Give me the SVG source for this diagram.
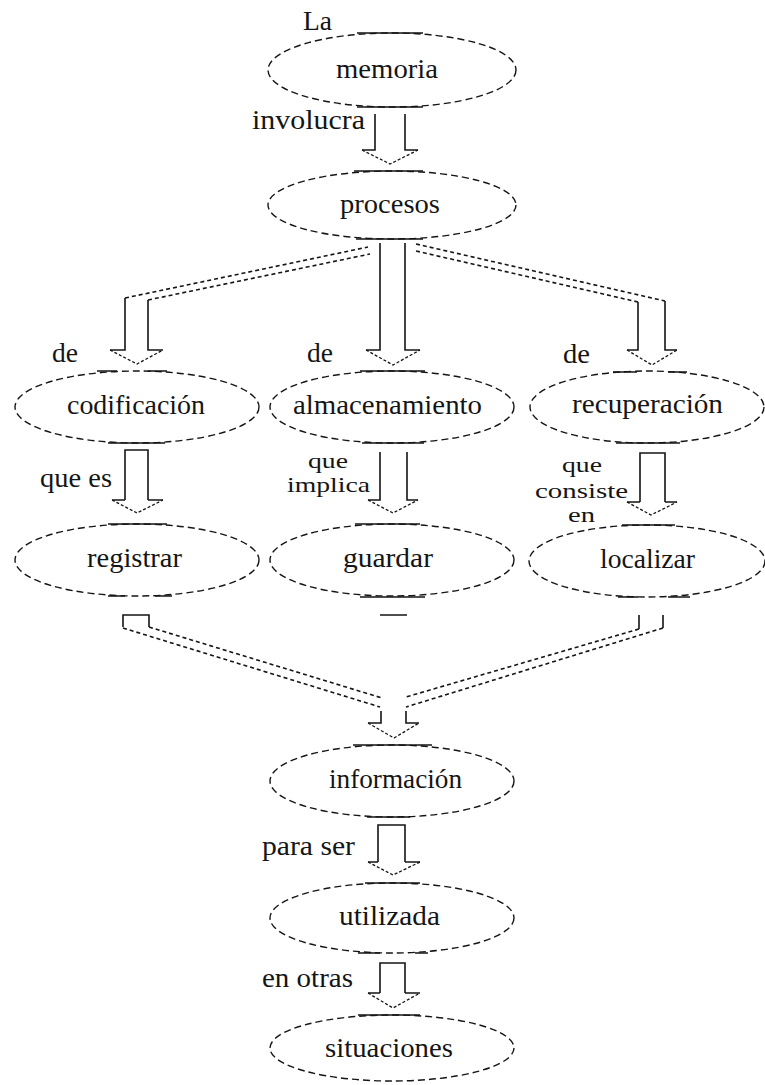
<svg xmlns="http://www.w3.org/2000/svg" width="765" height="1085" viewBox="0 0 765 1085">
<style>
.nd ellipse{fill:none;stroke:#151515;stroke-width:1.4;stroke-dasharray:7 4}
.seg{stroke:#151515;stroke-width:1.6;fill:none}
.shaft{fill:none;stroke:#151515;stroke-width:1.6}
.head{fill:none;stroke:#151515;stroke-width:1.3;stroke-dasharray:3 2}
.dl{fill:none;stroke:#151515;stroke-width:1.6;stroke-dasharray:4 3}
text{font-family:"Liberation Serif",serif;font-size:27px;fill:#151515}
.sm{font-size:22px}
</style>
<rect width="765" height="1085" fill="#ffffff"/>
<g id="n-memoria" class="nd"><ellipse cx="392" cy="70" rx="124" ry="37"/><path class="seg" d="M357 33H423M357 107H423"/><text x="336" y="78" textLength="102" lengthAdjust="spacingAndGlyphs">memoria</text></g>
<g id="n-procesos" class="nd"><ellipse cx="392" cy="205" rx="124" ry="34"/><path class="seg" d="M354 171H423M356 239H423"/><text x="340" y="213" textLength="100" lengthAdjust="spacingAndGlyphs">procesos</text></g>
<g id="n-codificacion" class="nd"><ellipse cx="137" cy="407" rx="122" ry="36"/><path class="seg" d="M97 371H117M148 371H167M108 443H165"/><text x="67" y="414" textLength="138" lengthAdjust="spacingAndGlyphs">codificación</text></g>
<g id="n-almacenamiento" class="nd"><ellipse cx="392" cy="407" rx="122" ry="36"/><path class="seg" d="M360 371H425M362 443H424"/><text x="293" y="414" textLength="189" lengthAdjust="spacingAndGlyphs">almacenamiento</text></g>
<g id="n-recuperacion" class="nd"><ellipse cx="647" cy="407" rx="117" ry="36"/><path class="seg" d="M613 372H637M668 372H687M616 443H680"/><text x="572" y="413" textLength="151" lengthAdjust="spacingAndGlyphs">recuperación</text></g>
<g id="n-registrar" class="nd"><ellipse cx="137" cy="560" rx="122" ry="36"/><path class="seg" d="M108 524H167M108 596H125M155 596H172"/><text x="87" y="567" textLength="95" lengthAdjust="spacingAndGlyphs">registrar</text></g>
<g id="n-guardar" class="nd"><ellipse cx="392" cy="560" rx="122" ry="36"/><path class="seg" d="M355 524H420M360 597H425M380 615H407"/><text x="343" y="567" textLength="90" lengthAdjust="spacingAndGlyphs">guardar</text></g>
<g id="n-localizar" class="nd"><ellipse cx="647" cy="561" rx="118" ry="36"/><path class="seg" d="M622 525H675M618 597H638M668 597H690"/><text x="600" y="568" textLength="95" lengthAdjust="spacingAndGlyphs">localizar</text></g>
<g id="n-informacion" class="nd"><ellipse cx="392" cy="781" rx="122" ry="36"/><path class="seg" d="M353 745H432M367 817H410"/><text x="329" y="788" textLength="133" lengthAdjust="spacingAndGlyphs">información</text></g>
<g id="n-utilizada" class="nd"><ellipse cx="392" cy="918" rx="122" ry="35"/><path class="seg" d="M365 883H420M358 953H380M415 953H428"/><text x="339" y="925" textLength="101" lengthAdjust="spacingAndGlyphs">utilizada</text></g>
<g id="n-situaciones" class="nd"><ellipse cx="392" cy="1048" rx="122" ry="33"/><path class="seg" d="M358 1015H420"/><text x="325" y="1057" textLength="128" lengthAdjust="spacingAndGlyphs">situaciones</text></g>
<g id="connectors">
<path class="shaft" d="M375 114V150H362M405 114V150H418"/><path class="head" d="M362 150L390 164L418 150"/>
<path class="dl" d="M125 298L368 247M148 300L370 254"/>
<path class="shaft" d="M125 298V350H110M148 300V350H163"/><path class="head" d="M110 350L137 364L163 350"/>
<path class="shaft" d="M380 243V350H366M405 243V350H420"/><path class="head" d="M366 350L393 365L420 350"/>
<path class="dl" d="M416 244L665 301M416 251L638 302"/>
<path class="shaft" d="M638 302V350H627M665 301V350H677"/><path class="head" d="M627 350L652 365L677 350"/>
<path class="shaft" d="M125 500V450H148V500M125 500H112M148 500H163"/><path class="head" d="M112 500L137 513L163 500"/>
<path class="shaft" d="M380 452V500H368M407 452V500H418"/><path class="head" d="M368 500L393 513L418 500"/>
<path class="shaft" d="M640 502V453H665V502M640 502H627M665 502H677"/><path class="head" d="M627 502L651 515L677 502"/>
<path class="shaft" d="M123 627V615H149V627M639 615V629M663 615V628"/>
<path class="dl" d="M123 628L380 707M149 627L382 698M639 629L406 697M663 628L406 707"/>
<path class="shaft" d="M381 711V723H368M406 711V723H419"/><path class="head" d="M368 723L394 738L419 723"/>
<path class="shaft" d="M378 862V825H405V862M378 862H368M405 862H420"/><path class="head" d="M368 862L393 875L420 862"/>
<path class="shaft" d="M380 993V963H405V993M380 993H368M405 993H420"/><path class="head" d="M368 993L393 1008L420 993"/>
</g>
<g id="labels">
<text x="303" y="30" textLength="29" lengthAdjust="spacingAndGlyphs">La</text>
<text x="252" y="129" textLength="113" lengthAdjust="spacingAndGlyphs">involucra</text>
<text x="52" y="362" textLength="26" lengthAdjust="spacingAndGlyphs">de</text>
<text x="307" y="362" textLength="26" lengthAdjust="spacingAndGlyphs">de</text>
<text x="563" y="363" textLength="27" lengthAdjust="spacingAndGlyphs">de</text>
<text x="40" y="487" textLength="72" lengthAdjust="spacingAndGlyphs">que es</text>
<text class="sm" x="308" y="468" textLength="40" lengthAdjust="spacingAndGlyphs">que</text>
<text class="sm" x="287" y="492" textLength="83" lengthAdjust="spacingAndGlyphs">implica</text>
<text class="sm" x="562" y="472" textLength="40" lengthAdjust="spacingAndGlyphs">que</text>
<text class="sm" x="535" y="498" textLength="93" lengthAdjust="spacingAndGlyphs">consiste</text>
<text class="sm" x="568" y="522" textLength="27" lengthAdjust="spacingAndGlyphs">en</text>
<text x="262" y="855" textLength="93" lengthAdjust="spacingAndGlyphs">para ser</text>
<text x="262" y="987" textLength="91" lengthAdjust="spacingAndGlyphs">en otras</text>
</g>
</svg>
